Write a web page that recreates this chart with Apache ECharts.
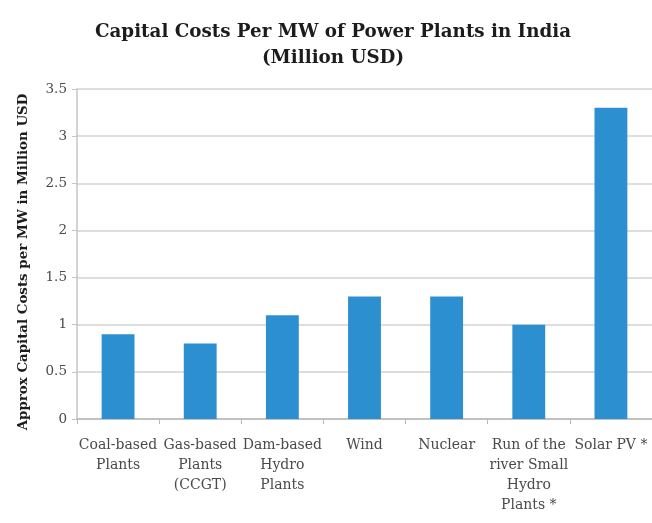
<!DOCTYPE html>
<html>
<head>
<meta charset="utf-8">
<script src="https://cdn.jsdelivr.net/npm/echarts@6/dist/echarts.min.js"></script>
<style>
  html, body { margin: 0; padding: 0; background: #ffffff; }
  #chart { width: 652px; height: 523px; }
</style>
</head>
<body>
<div id="chart"></div>
<script>
// Plant types shown along the horizontal axis
const categories = [
  'Coal-based\nPlants',
  'Gas-based\nPlants\n(CCGT)',
  'Dam-based\nHydro\nPlants',
  'Wind',
  'Nuclear',
  'Run of the\nriver Small\nHydro\nPlants *',
  'Solar PV *'
];

// Approximate capital cost per MW, million USD
const capitalCost = [0.9, 0.8, 1.1, 1.3, 1.3, 1.0, 3.3];

// Value axis range and step
const yMin = 0;
const yMax = 3.5;
const yStep = 0.5;

const serif = '"DejaVu Serif", "Liberation Serif", serif';

const chart = echarts.init(document.getElementById('chart'), null, { renderer: 'canvas' });

chart.setOption({
  backgroundColor: '#ffffff',
  animation: false,
  title: {
    text: 'Capital Costs Per MW of Power Plants in India\n(Million USD)',
    left: 328,
    top: 14,
    textAlign: 'center',
    textStyle: {
      fontFamily: serif,
      fontWeight: 'bold',
      fontSize: 18.3,
      lineHeight: 26,
      color: '#1c1c1c'
    }
  },
  grid: {
    left: 77,
    top: 89,
    width: 583,
    height: 330,
    containLabel: false
  },
  xAxis: {
    type: 'category',
    data: categories,
    axisLine: { show: true, lineStyle: { color: '#b8b8b8', width: 1.5 } },
    axisTick: { show: true, alignWithLabel: false, length: 5, lineStyle: { color: '#b8b8b8' } },
    axisLabel: {
      interval: 0,
      margin: 16,
      fontFamily: serif,
      fontSize: 14,
      lineHeight: 20,
      color: '#4a4a4a',
      align: 'center'
    },
    splitLine: { show: false }
  },
  yAxis: {
    type: 'value',
    min: yMin,
    max: yMax,
    interval: yStep,
    name: 'Approx Capital Costs per MW in Million USD',
    nameLocation: 'middle',
    nameGap: 47,
    nameTextStyle: {
      fontFamily: serif,
      fontWeight: 'bold',
      fontSize: 13.4,
      color: '#1c1c1c',
      padding: [0, 16, 0, 0]
    },
    axisLine: { show: true, lineStyle: { color: '#c4c4c4', width: 1.5 } },
    axisTick: { show: true, length: 5, lineStyle: { color: '#c4c4c4' } },
    axisLabel: {
      margin: 10,
      fontFamily: serif,
      fontSize: 13.5,
      color: '#4a4a4a'
    },
    splitLine: { show: true, lineStyle: { color: '#d2d2d2', width: 1.5 } }
  },
  series: [{
    type: 'bar',
    data: capitalCost,
    barCategoryGap: '60%',
    itemStyle: { color: '#2c8fcf' }
  }]
});
</script>
</body>
</html>
